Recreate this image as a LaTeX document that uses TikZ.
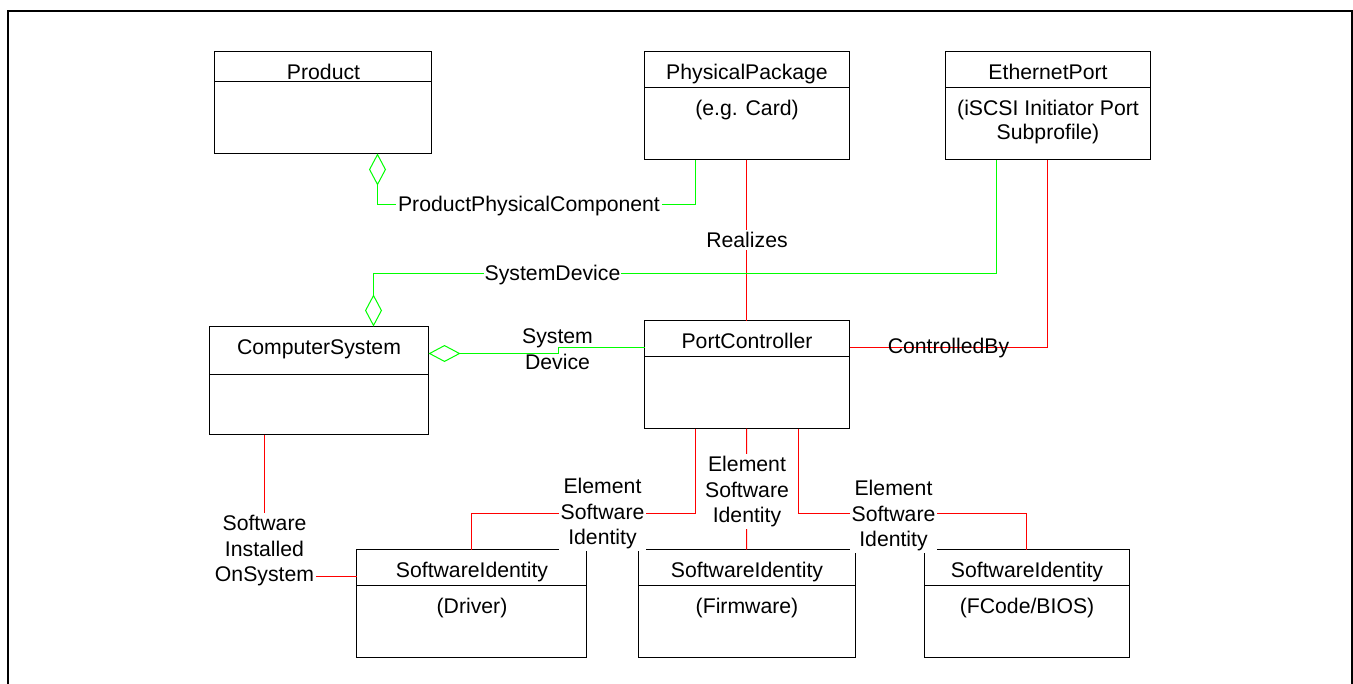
\documentclass[tikz,border=0pt]{standalone}
\usepackage{fontspec}
\setmainfont{Liberation Sans}
\usetikzlibrary{arrows.meta}
\definecolor{umlgreen}{RGB}{0,255,0}
\definecolor{umlred}{RGB}{255,0,0}
\tikzset{
  cls/.style={draw, line width=1bp, anchor=north west, inner sep=0pt, outer sep=0pt},
  txt/.style={font=\fontsize{21.3}{25.5}\selectfont, inner sep=0pt, align=center},
  gline/.style={draw=umlgreen, line width=1bp},
  rline/.style={draw=umlred, line width=1bp},
  lbl/.style={font=\fontsize{21.3}{25.5}\selectfont, fill=white, inner sep=2bp, align=center},
  plainlbl/.style={font=\fontsize{21.3}{25.5}\selectfont, inner sep=0pt, align=center},
  agg/.style={{Diamond[open,length=32bp,width=17bp]}-},
}
% name, left, top, right, bottom, header line row
\newcommand\umlbox[6]{%
  \pgfmathsetmacro\umlw{#4-#2}%
  \pgfmathsetmacro\umlh{#5-#3}%
  \node[cls, minimum width=\umlw bp, minimum height=\umlh bp] (#1) at (#2,#3) {};
  \draw[line width=1bp] (#1.west |- 0,#6) -- (#1.east |- 0,#6);
}
\begin{document}
\begin{tikzpicture}[x=1bp,y=-1bp]
\useasboundingbox (-0.5,-0.5) rectangle (1352.5,682.5);
\clip (-0.5,-0.5) rectangle (1352.5,682.5);
% outer frame
\draw[line width=2bp] (7.5,700) -- (7.5,10.5) -- (1351.5,10.5) -- (1351.5,700);

% classes
\umlbox{prod}{214}{51}{431}{153}{81}
\umlbox{pp}{644}{51}{849}{159}{87}
\umlbox{eth}{945}{51}{1150}{159}{87}
\umlbox{cs}{209}{326}{428}{434}{374}
\umlbox{pc}{644}{320}{849}{428}{356}
\umlbox{si1}{356}{549}{586}{657}{585}
\umlbox{si2}{638}{549}{855}{657}{585}
\umlbox{si3}{924}{549}{1129}{657}{585}

% class texts
\node[txt, anchor=base] (prodT) at (323,79) {Product};
\node[txt, anchor=base] (ppT) at (746.5,79) {PhysicalPackage};
\node[txt, anchor=base] (ppB) at (746.5,115) {(e.g. Card)};
\node[txt, anchor=base] (ethT) at (1047.5,79) {EthernetPort};
\node[txt, font=\fontsize{21.3}{24}\selectfont] (ethB) at (1047.5,121.5) {(iSCSI Initiator Port\\Subprofile)};
\node[txt, anchor=base] (csT) at (318.5,354) {ComputerSystem};
\node[txt, anchor=base] (pcT) at (746.5,348) {PortController};
\node[txt, anchor=base] (si1T) at (471.5,577) {SoftwareIdentity};
\node[txt, anchor=base] (si1B) at (471.5,613) {(Driver)};
\node[txt, anchor=base] (si2T) at (746.5,577) {SoftwareIdentity};
\node[txt, anchor=base] (si2B) at (746.5,613) {(Firmware)};
\node[txt, anchor=base] (si3T) at (1026.5,577) {SoftwareIdentity};
\node[txt, anchor=base] (si3B) at (1026.5,613) {(FCode/BIOS)};

% connectors
\coordinate (sdstep) at (558,350);
\draw[gline, agg] ([xshift=54.5bp]prod.south) -- ++(0,51) -| ([xshift=-51.5bp]pp.south);
\draw[rline] ([xshift=-0.5bp]pp.south) -- ([xshift=-0.5bp]pc.north);
\draw[gline, agg] ([xshift=54.5bp]cs.north) -- ++(0,-53) -| ([xshift=-51.5bp]eth.south);
\draw[gline, agg] ([yshift=27bp]cs.east) -| (sdstep) |- ([yshift=27bp]pc.west);
\draw[rline] ([yshift=27bp]pc.east) -| ([xshift=-0.5bp]eth.south);
\draw[rline] ([xshift=-54.5bp]cs.south) |- ([yshift=27bp]si1.west);
\draw[rline] ([xshift=-51.5bp]pc.south) -- ++(0,85) -| (si1.north);
\draw[rline] ([xshift=-0.5bp]pc.south) -- ([xshift=-0.5bp]si2.north);
\draw[rline] ([xshift=51.5bp]pc.south) -- ++(0,85) -| ([xshift=-0.5bp]si3.north);

% labels
\node[lbl, anchor=base] (ppcL) at (528.5,211) {ProductPhysicalComponent};
\node[lbl, anchor=base] (realL) at (746.5,247) {Realizes};
\node[lbl, anchor=base, inner sep=0.5bp] (sd1L) at (552,280) {SystemDevice};
\node[plainlbl] (sd2L) at (557,348.5) {System\\Device};
\node[plainlbl, anchor=base] (cbL) at (948,353) {ControlledBy};
\node[lbl] (sioL) at (264,550.2) {Software\\Installed\\OnSystem};
\node[lbl] (esi1L) at (602,513.2) {Element\\Software\\Identity};
\node[lbl] (esi2L) at (746.5,491.2) {Element\\Software\\Identity};
\node[lbl] (esi3L) at (893,515.2) {Element\\Software\\Identity};
\end{tikzpicture}
\end{document}
